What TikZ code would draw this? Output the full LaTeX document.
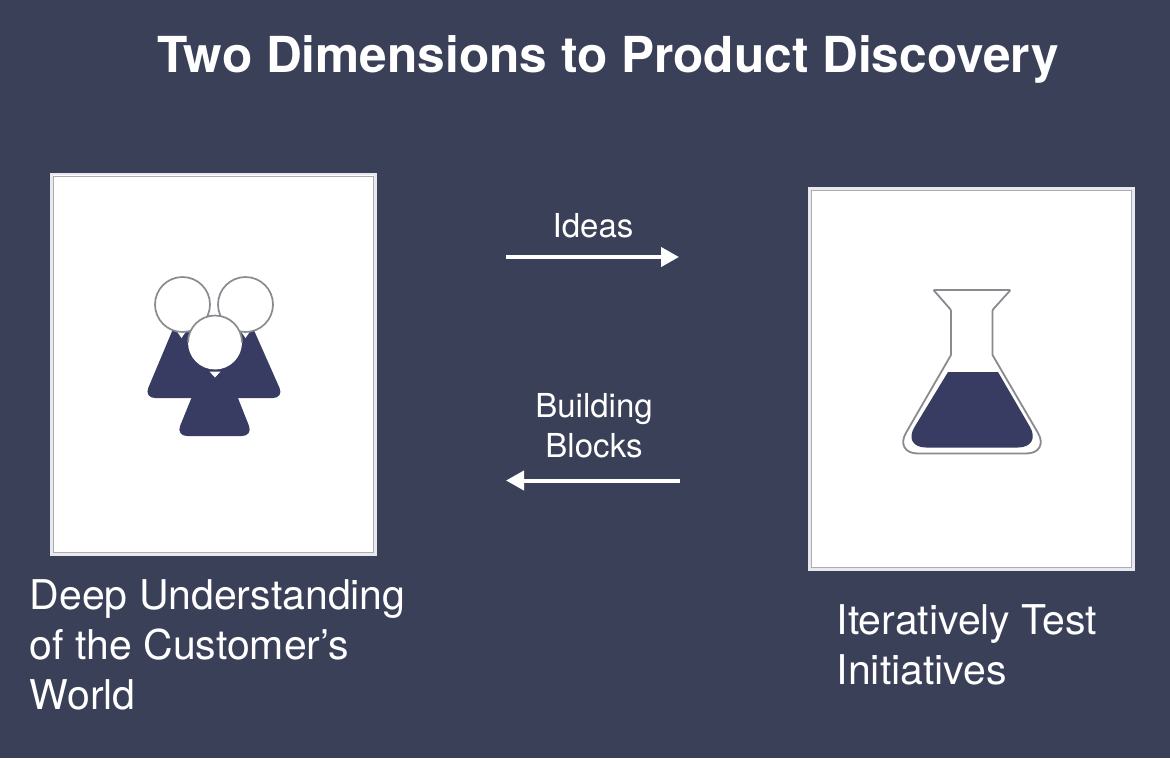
\documentclass[tikz,border=0pt]{standalone}
\usepackage{fontspec}
\setmainfont{TeX Gyre Heros}
\usetikzlibrary{arrows.meta}
\definecolor{slatebg}{HTML}{3B4059}
\definecolor{iconfill}{HTML}{383C63}
\definecolor{iconline}{HTML}{8A8A90}
\definecolor{paneline}{HTML}{E8E9EE}
\tikzset{
    panel/.style={draw=paneline, fill=white, line width=2.4pt},
    panelin/.style={draw=iconline!70, line width=.8pt},
    head/.style={draw=iconline, fill=white, line width=1.7pt},
    body/.style={fill=iconfill, rounded corners=11pt},
    flask/.style={iconline, line width=1.8pt},
    flow/.style={white, line width=4pt, -{Triangle[length=18pt,width=19pt]}},
    flowtext/.style={white, font=\fontsize{33}{40}\selectfont, align=center},
    caption/.style={white, font=\fontsize{41}{50}\selectfont, align=left, anchor=north west, inner sep=0pt}
}
\begin{document}
\begin{tikzpicture}[x=1pt,y=-1pt]
                \useasboundingbox (0,0) rectangle (1170,758);
                \fill[slatebg] (0,0) rectangle (1170,758);
                \node[white, font=\bfseries\fontsize{49.6}{56}\selectfont] (title) at (608,59) {Two Dimensions to Product Discovery};
                % panels
                \draw[panel] (51.5,174) rectangle (375.5,554.5);
                \draw[panelin] (53.5,176) rectangle (373.5,552.5);
                \draw[panel] (809.5,188.5) rectangle (1133.5,569.5);
                \draw[panelin] (811.5,190.5) rectangle (1131.5,567.5);
                % people
                \fill[body] (181,310) -- (144,398) -- (222,398) -- cycle;
                \fill[body] (245,310) -- (206,398) -- (284,398) -- cycle;
                \fill[body] (215,340) -- (176,436) -- (253,436) -- cycle;
                \fill[iconfill] (176,335) -- (222,398) -- (250,335) -- cycle;
                \fill[white] (176,330) -- (187,330) -- (181.5,338) -- cycle;
                \fill[white] (240,330) -- (251,330) -- (245.5,338) -- cycle;
                \draw[head] (182.5,304.5) circle[radius=27.5pt];
                \draw[head] (245.5,304.5) circle[radius=27.5pt];
                \fill[white] (209.5,371.5) -- (220.5,371.5) -- (215,377.5) -- cycle;
                \fill[white] (215,342.5) circle[radius=27pt];
                \draw[iconline, line width=1.7pt] (188,342.5) arc[start angle=180, end angle=0, radius=27pt];
                % flask
                \draw[flask, rounded corners=1pt] (933.5,290) -- (1010.5,290) -- (992.5,310) -- (992.5,355);
                \draw[flask, rounded corners=24pt] (992.5,355) -- (1050,453.5) -- (894,453.5) -- (951,355);
                \draw[flask, rounded corners=1pt] (951,355) -- (951,310) -- (933.5,290);
                \fill[iconfill] (948,372) -- (998,372) [rounded corners=24pt] -- (1042,447.5) -- (902,447.5) [sharp corners] -- cycle;
                % arrows
                \coordinate (ideasfrom) at (506,257);
                \coordinate (ideasto) at (679,257);
                \coordinate (blocksfrom) at (680,480.5);
                \coordinate (blocksto) at (506,480.5);
                \draw[flow] (ideasfrom) -- (ideasto);
                \draw[flow] (blocksfrom) -- (blocksto);
                \node[flowtext] (ideas) at (593,226) {Ideas};
                \node[flowtext] (blocks) at (594,426) {Building\\Blocks};
                % captions
                \node[caption] (leftcap) at (29.5,579) {Deep Understanding\\of the Customer’s\\World};
                \node[caption] (rightcap) at (836.5,604) {Iteratively Test\\Initiatives};
            \end{tikzpicture}
\end{document}
